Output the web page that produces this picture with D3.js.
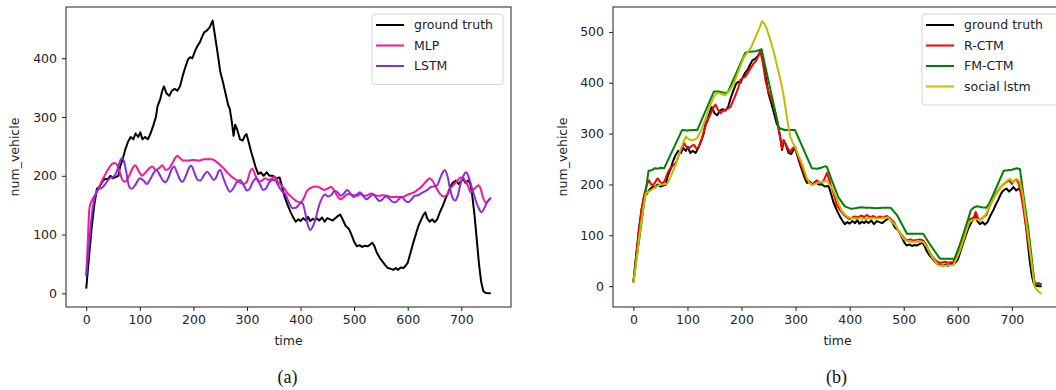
<!DOCTYPE html>
<html>
<head>
<meta charset="utf-8">
<script src="https://cdn.jsdelivr.net/npm/d3@7"></script>
<style>
  body { margin: 0; background: #fff; }
  svg { display: block; }
  text { font-family: "DejaVu Sans", sans-serif; fill: #222; }
  text.caption { font-family: "Liberation Serif", "Times New Roman", serif; fill: #111; }
</style>
</head>
<body>
<svg id="chart" width="1056" height="390"></svg>
<script>
// tick labels
const timeTicks = [0, 100, 200, 300, 400, 500, 600, 700];
const leftYTicks = [0, 100, 200, 300, 400];
const rightYTicks = [0, 100, 200, 300, 400, 500];

// series as [time, num_vehicle]
const groundTruth = [[0,8],[5,60],[10,110],[15,150],[20,178],[25,182],[30,190],[35,195],[40,194],[45,200],[50,196],[55,198],[60,200],[63,215],[68,228],[73,245],[78,258],[83,266],[88,262],[92,272],[97,266],[101,274],[105,262],[110,266],[115,262],[120,272],[125,285],[130,300],[133,318],[138,330],[142,345],[145,352],[150,340],[155,336],[160,345],[165,348],[170,345],[175,352],[180,370],[185,385],[190,398],[194,402],[198,400],[203,412],[207,420],[212,427],[216,436],[220,444],[225,447],[230,452],[233,458],[236,464],[240,440],[245,410],[250,378],[255,360],[260,340],[265,320],[268,314],[272,290],[275,268],[278,287],[282,278],[287,262],[292,260],[296,268],[299,271],[303,258],[308,240],[312,228],[316,215],[321,203],[326,206],[331,200],[337,206],[342,200],[348,200],[354,196],[361,197],[366,180],[370,165],[376,150],[382,137],[387,128],[391,122],[396,126],[400,123],[405,128],[410,124],[414,130],[418,123],[423,127],[427,124],[430,128],[435,124],[440,129],[445,122],[450,128],[455,126],[460,124],[465,128],[470,132],[474,134],[478,127],[484,115],[490,110],[494,102],[500,88],[505,80],[510,82],[515,79],[520,81],[525,80],[530,83],[534,86],[538,80],[542,70],[548,60],[553,54],[558,48],[563,43],[568,42],[573,40],[578,43],[582,40],[587,44],[592,43],[596,47],[600,52],[603,62],[607,75],[611,88],[616,103],[620,115],[625,125],[629,133],[633,138],[636,128],[641,122],[646,126],[650,121],[655,126],[660,138],[666,150],[671,162],[675,170],[680,182],[684,188],[690,192],[695,186],[699,190],[703,195],[708,188],[713,192],[717,186],[720,170],[725,130],[729,90],[733,50],[737,20],[741,4],[745,1],[750,0],[755,0]];

const mlp = [[0,30],[3,90],[6,145],[10,157],[15,165],[20,172],[26,185],[31,195],[36,203],[42,213],[48,220],[53,222],[58,218],[63,205],[68,192],[73,190],[80,200],[86,212],[91,218],[97,210],[104,200],[110,205],[117,212],[123,216],[130,210],[136,213],[142,218],[148,210],[154,212],[160,220],[166,230],[170,234],[175,230],[182,226],[190,226],[200,227],[210,226],[220,228],[232,228],[240,226],[248,220],[256,213],[264,205],[272,198],[280,193],[288,188],[294,186],[300,190],[306,208],[310,212],[316,200],[322,190],[328,192],[334,196],[340,193],[346,195],[352,199],[358,190],[364,184],[370,178],[376,170],[382,165],[388,160],[394,156],[400,155],[406,162],[412,174],[420,180],[428,182],[436,180],[444,176],[450,178],[457,181],[463,175],[469,165],[475,160],[482,165],[488,169],[494,168],[500,167],[506,166],[512,169],[518,166],[525,167],[532,170],[539,167],[546,166],[554,167],[562,166],[570,164],[578,164],[586,164],[594,165],[600,168],[606,170],[612,172],[618,176],[624,180],[630,186],[636,192],[641,196],[646,192],[652,182],[658,172],[664,166],[669,165],[675,170],[681,180],[687,186],[693,192],[698,197],[703,197],[708,190],[713,182],[717,172],[722,176],[727,180],[732,184],[736,178],[741,162],[746,154],[750,157],[755,162]];

const lstm = [[0,30],[5,80],[10,130],[15,160],[20,175],[25,178],[30,180],[37,188],[44,196],[50,198],[56,205],[62,222],[66,230],[70,226],[75,205],[80,182],[85,178],[92,185],[100,196],[107,192],[113,186],[120,195],[126,205],[131,210],[137,202],[143,192],[148,189],[154,198],[160,212],[164,216],[170,204],[176,192],[180,190],[186,200],[192,214],[196,217],[202,205],[208,193],[213,192],[219,200],[226,207],[232,200],[238,193],[243,198],[247,208],[250,210],[256,196],[262,182],[268,173],[274,178],[280,188],[287,193],[294,184],[300,175],[305,178],[311,190],[318,196],[324,186],[330,176],[335,178],[341,188],[347,193],[352,193],[357,186],[362,178],[367,172],[372,168],[378,155],[385,145],[392,146],[398,152],[403,154],[408,140],[413,118],[418,108],[423,114],[429,130],[434,148],[440,162],[446,168],[451,165],[457,167],[463,174],[469,172],[475,166],[481,170],[487,176],[493,170],[499,164],[505,168],[511,172],[517,166],[523,160],[529,164],[535,168],[541,163],[547,157],[553,160],[559,165],[565,162],[571,156],[577,155],[583,160],[589,164],[595,158],[601,155],[607,160],[613,166],[619,167],[625,170],[631,173],[637,176],[643,181],[649,182],[655,184],[660,195],[665,205],[669,210],[674,200],[679,178],[684,162],[689,158],[694,168],[699,188],[704,200],[709,206],[713,200],[718,185],[723,170],[728,155],[733,144],[738,138],[743,145],[748,155],[752,160],[755,163]];

const rCtm = [[0,8],[5,55],[10,105],[15,150],[20,180],[25,200],[29,208],[33,200],[37,199],[41,206],[45,212],[50,204],[54,202],[58,207],[63,222],[68,232],[74,238],[79,243],[84,258],[89,270],[94,281],[99,272],[103,271],[108,276],[112,278],[117,270],[121,274],[126,288],[130,303],[134,317],[139,330],[144,342],[148,352],[152,357],[156,348],[161,340],[166,345],[171,347],[176,350],[180,353],[185,366],[189,376],[194,390],[198,406],[203,410],[207,412],[212,420],[217,429],[221,436],[226,442],[230,450],[235,462],[240,436],[244,406],[249,385],[255,368],[260,353],[265,330],[269,307],[275,271],[278,285],[281,281],[286,270],[290,264],[295,272],[299,274],[304,258],[309,241],[314,228],[318,215],[324,205],[330,199],[334,203],[339,208],[344,204],[348,202],[353,210],[358,223],[362,210],[367,192],[371,180],[376,160],[382,150],[388,142],[394,136],[400,132],[405,135],[409,137],[415,135],[421,139],[427,136],[432,140],[438,135],[444,138],[450,134],[456,137],[460,135],[464,136],[469,138],[473,134],[478,130],[482,126],[487,115],[492,106],[497,100],[502,93],[506,90],[512,92],[518,90],[524,91],[530,92],[536,90],[541,82],[548,67],[553,58],[558,52],[564,47],[570,46],[576,48],[582,46],[587,47],[591,47],[595,55],[599,66],[603,77],[608,95],[613,111],[618,126],[622,132],[626,133],[630,136],[633,146],[636,138],[639,129],[643,132],[648,136],[653,140],[658,155],[664,168],[670,181],[676,190],[682,198],[688,203],[694,208],[697,205],[700,201],[703,205],[706,209],[710,207],[713,201],[717,180],[721,155],[725,125],[729,97],[733,70],[737,42],[742,8],[745,5],[750,6],[755,4]];

const fmCtm = [[0,8],[28,227],[34,228],[40,232],[46,231],[50,233],[57,232],[90,307],[100,306],[110,307],[118,307],[149,383],[158,383],[165,381],[174,380],[207,459],[215,461],[226,462],[232,464],[237,466],[269,311],[280,307],[290,307],[299,307],[330,232],[340,231],[348,233],[355,236],[358,234],[367,208],[379,175],[391,157],[403,152],[410,153],[421,155],[430,154],[439,154],[450,153],[460,154],[476,154],[488,139],[506,103],[520,103],[536,103],[548,83],[567,54],[580,54],[594,54],[609,96],[624,149],[630,155],[636,157],[644,155],[652,154],[658,162],[673,198],[685,227],[693,228],[700,229],[709,232],[715,230],[722,175],[730,116],[736,62],[742,5],[748,4],[755,3]];

const socialLstm = [[0,6],[5,45],[10,90],[15,130],[20,165],[23,182],[28,186],[33,189],[40,194],[48,199],[55,200],[63,202],[70,218],[79,241],[85,262],[91,280],[97,294],[101,290],[106,287],[112,288],[118,291],[125,305],[132,325],[140,350],[149,373],[154,380],[158,380],[164,377],[171,376],[178,385],[186,399],[195,425],[204,449],[211,460],[217,468],[223,483],[229,498],[234,510],[238,521],[243,515],[247,505],[253,485],[260,459],[266,432],[272,406],[277,380],[281,353],[285,325],[290,294],[295,282],[299,274],[305,258],[312,241],[317,225],[321,212],[325,205],[330,199],[336,201],[342,204],[348,205],[354,206],[358,208],[362,200],[366,195],[370,188],[377,170],[385,149],[391,141],[397,136],[403,134],[409,133],[420,133],[430,132],[440,134],[450,133],[464,134],[470,135],[476,130],[485,119],[492,107],[500,93],[506,89],[512,87],[524,88],[536,87],[544,75],[552,58],[558,49],[564,41],[575,40],[585,41],[591,41],[597,52],[603,67],[612,96],[621,126],[627,130],[633,132],[639,130],[645,132],[652,142],[658,155],[665,170],[673,184],[680,195],[688,204],[693,209],[697,211],[700,207],[703,204],[706,209],[709,211],[712,208],[715,204],[720,180],[724,148],[730,100],[736,50],[742,-1],[747,-8],[752,-13],[755,-15]];

const svg = d3.select("#chart");
svg.append("rect").attr("width", 1056).attr("height", 390).attr("fill", "#fff");

// draws one subplot: frame, axes, lines, legend, caption
function drawPanel(p) {
  const x = d3.scaleLinear().domain([-37.75, 792.75]).range([p.left, p.right]);
  const y = d3.scaleLinear().domain(p.yDomain).range([p.bottom, p.top]);
  const g = svg.append("g");

  g.append("rect")
    .attr("x", p.left).attr("y", p.top)
    .attr("width", p.right - p.left).attr("height", p.bottom - p.top)
    .attr("fill", "none").attr("stroke", "#222").attr("stroke-width", 1);

  const xAxis = g.append("g")
    .attr("transform", `translate(0,${p.bottom})`)
    .call(d3.axisBottom(x).tickValues(timeTicks).tickSize(4).tickPadding(4));
  const yAxis = g.append("g")
    .attr("transform", `translate(${p.left},0)`)
    .call(d3.axisLeft(y).tickValues(p.yTicks).tickSize(4).tickPadding(5));
  [xAxis, yAxis].forEach((a) => {
    a.select(".domain").remove();
    a.selectAll("line").attr("stroke", "#222");
    a.selectAll("text").attr("font-size", 12.5).attr("fill", "#222")
      .attr("font-family", "DejaVu Sans");
  });

  g.append("text")
    .attr("x", (p.left + p.right) / 2).attr("y", 345)
    .attr("text-anchor", "middle").attr("font-size", 12.5)
    .text("time");
  g.append("text")
    .attr("transform", `translate(${p.yLabelX},157) rotate(-90)`)
    .attr("text-anchor", "middle").attr("font-size", 12.5)
    .text("num_vehicle");

  p.series.forEach((s) => {
    const line = d3.line()
      .x((d) => x(d[0]))
      .y((d) => y(d[1]))
      .curve(s.smooth ? d3.curveMonotoneX : d3.curveLinear);
    g.append("path")
      .datum(s.data)
      .attr("d", line)
      .attr("fill", "none")
      .attr("stroke", s.color)
      .attr("stroke-width", 2)
      .attr("stroke-linejoin", "round");
  });

  // legend in the upper right corner
  const lg = g.append("g").attr("transform", `translate(${p.legendX},${p.top + 7})`);
  lg.append("rect")
    .attr("width", p.legendW).attr("height", 9 + p.series.length * 20.5)
    .attr("rx", 3)
    .attr("fill", "#fff").attr("fill-opacity", 0.8)
    .attr("stroke", "#d6d6d6");
  p.series.forEach((s, i) => {
    const yy = 11 + i * 20.5;
    lg.append("line")
      .attr("x1", 4).attr("x2", 32).attr("y1", yy).attr("y2", yy)
      .attr("stroke", s.color).attr("stroke-width", 2);
    lg.append("text")
      .attr("x", 42).attr("y", yy).attr("dy", "0.35em")
      .attr("font-size", 12.5)
      .text(s.name);
  });

  svg.append("text")
    .attr("class", "caption")
    .attr("x", (p.left + p.right) / 2 - 1).attr("y", 383)
    .attr("text-anchor", "middle")
    .attr("font-size", 18)
    .text(p.caption);
}

drawPanel({
  left: 66, right: 511, top: 7, bottom: 307,
  yDomain: [-23.2, 487.2], yTicks: leftYTicks, yLabelX: 19,
  legendX: 372, legendW: 131, caption: "(a)",
  series: [
    { name: "ground truth", color: "#000000", data: groundTruth },
    { name: "MLP", color: "#ff1493", data: mlp, smooth: true },
    { name: "LSTM", color: "#8a2be2", data: lstm, smooth: true },
  ],
});

drawPanel({
  left: 613, right: 1062, top: 7, bottom: 307,
  yDomain: [-41, 549], yTicks: rightYTicks, yLabelX: 567,
  legendX: 922, legendW: 136, caption: "(b)",
  series: [
    { name: "ground truth", color: "#000000", data: groundTruth },
    { name: "R-CTM", color: "#ff0000", data: rCtm },
    { name: "FM-CTM", color: "#008000", data: fmCtm },
    { name: "social lstm", color: "#bfbf00", data: socialLstm },
  ],
});
</script>
</body>
</html>
